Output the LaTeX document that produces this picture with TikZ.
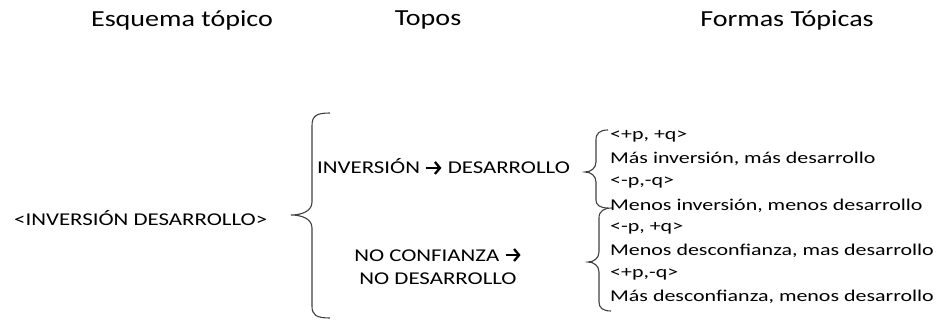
\documentclass[tikz,border=0pt]{standalone}
\usepackage{fontspec}
\usetikzlibrary{arrows.meta}
\setmainfont{Carlito}
\newfontfamily\titlefont[FakeStretch=1.22]{Carlito}
\newfontfamily\mainfont[FakeStretch=1.27]{Carlito}
\newfontfamily\itemfont[FakeStretch=1.33]{Carlito}
\newcommand{\bigarrow}{\tikz[baseline=0pt,x=1pt,y=1pt]\draw[line width=2.3pt,-{Straight Barb[length=5pt,width=12pt,line width=2.3pt]}] (0,6)--(15,6);}
\begin{document}
\begin{tikzpicture}[x=1pt,y=-1pt,
  title/.style={font=\titlefont\fontsize{23}{26}\selectfont, inner sep=0pt, anchor=center},
  main/.style={font=\mainfont\fontsize{18}{20}\selectfont, inner sep=0pt},
  item/.style={font=\itemfont\fontsize{16.5}{19}\selectfont, inner sep=0pt, anchor=west},
  brace/.style={draw=black!75, line width=1.1pt}]
\useasboundingbox (0,0) rectangle (946,320);
\node[title] (t1) at (182,20) {Esquema tópico};
\node[title] (t2) at (428,20) {Topos};
\node[title] (t3) at (787,20) {Formas Tópicas};
\node[main, anchor=west] (esq) at (14,218) {<INVERSIÓN DESARROLLO>};
\node[main, anchor=west] (top1) at (317,167) {INVERSIÓN \bigarrow\ DESARROLLO};
\node[main, align=center] (top2) at (438,266) {NO CONFIANZA \bigarrow\\[3pt]NO DESARROLLO};
\node[item] (f1) at (610,136) {<+p, +q>};
\node[item] (f2) at (610,159) {Más inversión, más desarrollo};
\node[item] (f3) at (610,183) {<-p,-q>};
\node[item] (f4) at (610,206) {Menos inversión, menos desarrollo};
\node[item] (f5) at (610,228) {<-p, +q>};
\node[item] (f6) at (610,251) {Menos desconfianza, mas desarrollo};
\node[item] (f7) at (610,274) {<+p,-q>};
\node[item] (f8) at (610,297) {Más desconfianza, menos desarrollo};
% big brace
\draw[brace] (330,113) .. controls (316,113) and (312,116) .. (312,126)
  -- (312,202) .. controls (312,211) and (302,215) .. (291,215)
  .. controls (302,215) and (312,219) .. (312,228)
  -- (312,306) .. controls (312,315) and (316,318) .. (330,318);
% small brace 1
\draw[brace] (608,130) .. controls (600,130) and (596,133) .. (596,140)
  -- (596,162) .. controls (596,168) and (591,172) .. (585,172)
  .. controls (591,172) and (596,176) .. (596,182)
  -- (596,200) .. controls (596,205) and (600,208) .. (608,208);
% small brace 2
\draw[brace] (612,208) .. controls (604,208) and (599,211) .. (599,218)
  -- (599,252) .. controls (599,258) and (594,262) .. (588,262)
  .. controls (594,262) and (599,266) .. (599,272)
  -- (599,302) .. controls (599,308) and (603,311) .. (611,311);
\end{tikzpicture}
\end{document}
